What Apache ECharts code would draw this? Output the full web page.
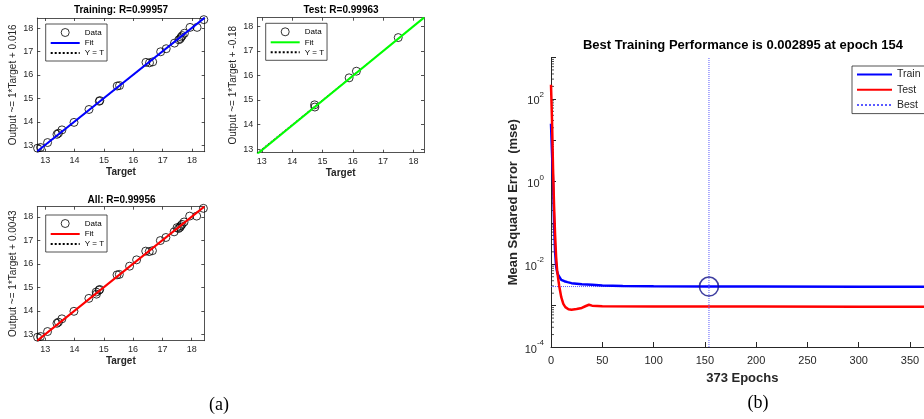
<!DOCTYPE html>
<html><head><meta charset="utf-8">
<script src="https://cdn.jsdelivr.net/npm/echarts@6/dist/echarts.min.js"></script>
<style>html,body{margin:0;padding:0;background:#fff}#c{width:924px;height:419px}</style>
</head><body><div id="c"></div>
<script>
// ---------------- data ----------------
const regTicks = [13, 14, 15, 16, 17, 18];
const trainTarget = [12.74,12.84,13.08,13.40,13.45,13.57,13.98,14.49,14.84,14.86,15.45,15.53,16.43,16.55,16.66,16.93,17.12,17.40,17.55,17.60,17.63,17.67,17.74,17.93,18.17,18.40];
const trainOutput = [12.88,12.91,13.12,13.47,13.52,13.66,13.98,14.53,14.88,14.91,15.53,15.55,16.54,16.52,16.56,16.99,17.12,17.36,17.50,17.55,17.62,17.68,17.78,18.03,18.03,18.36];
const testTarget = [14.74,14.75,15.88,16.12,17.50];
const testOutput = [14.80,14.71,15.90,16.17,17.54];
const trainFit = [1, 0.016];      // slope, intercept
const testFit = [1.01, -0.18];
const allFit = [1, 0.0043];
const trainR = '0.99957', testR = '0.99963', allR = '0.99956';
const limTrain = [12.73, 18.43], limTest = [12.85, 18.35], limAll = [12.73, 18.43];

const trainEpochs = [0,1,2,3,4,5,6,7,8,10,13,16,20,25,30,40,50,70,100,154,200,300,373];
const trainPerf = [25,5,1,0.1,0.02,0.009,0.0065,0.0055,0.005,0.0042,0.0039,0.0037,0.0035,0.0034,0.0033,0.0032,0.00305,0.003,0.00295,0.002895,0.00289,0.00288,0.00288];
const testEpochs = [0,1,2,3,4,5,6,7,8,10,12,14,17,20,25,30,34,37,40,50,100,200,300,373];
const testPerf = [220,30,2,0.25,0.05,0.015,0.007,0.0045,0.003,0.0016,0.0011,0.00092,0.00082,0.0008,0.00083,0.00088,0.00098,0.00105,0.001,0.00097,0.00096,0.00095,0.00094,0.00094];
const bestEpoch = 154, bestPerf = 0.002895;
const epochMax = 373;
const perfYMin = 1e-4, perfYMax = 1e3;

// ---------------- styles ----------------
const FF = 'Liberation Sans, Arial, Helvetica, sans-serif';
const AX = '#262626';
const zip = (a, b) => a.map((v, i) => [v, b[i]]);
const NOSYM = { color: 'rgba(0,0,0,0)', borderWidth: 0, opacity: 0 };

function regAxes(gi, lim, ylabel) {
  const base = {
    gridIndex: gi, type: 'value', min: lim[0], max: lim[1],
    splitLine: { show: false },
    axisLine: { show: true, onZero: false, lineStyle: { color: AX, width: 0.8 } },
    axisTick: { show: true, inside: true, length: 3, customValues: regTicks, lineStyle: { color: AX, width: 0.8 } }
  };
  const lab = { show: true, customValues: regTicks, fontSize: 9, color: AX, margin: 4, fontFamily: FF };
  return {
    x: [
      Object.assign({}, base, { position: 'bottom', axisLabel: lab, name: 'Target', nameLocation: 'middle', nameGap: 16,
        nameTextStyle: { fontSize: 10, fontWeight: 'bold', color: AX, fontFamily: FF } }),
      Object.assign({}, base, { position: 'top', axisLabel: { show: false } })
    ],
    y: [
      Object.assign({}, base, { position: 'left', axisLabel: lab, name: ylabel, nameLocation: 'middle', nameGap: 19, nameRotate: 90,
        nameTextStyle: { fontSize: 10, color: AX, fontFamily: FF } }),
      Object.assign({}, base, { position: 'right', axisLabel: { show: false } })
    ]
  };
}
function fitLabel(f) { return 'Output ~= ' + f[0].toFixed(0) + '*Target + ' + f[1]; }

const aTr = regAxes(0, limTrain, fitLabel(trainFit));
const aTe = regAxes(1, limTest, fitLabel(testFit));
const aAl = regAxes(2, limAll, fitLabel(allFit));

function regSeries(axIdx, tgt, out, fit, lim, color, sfx) {
  return [
    { type: 'scatter', name: 'Data|' + sfx, xAxisIndex: axIdx, yAxisIndex: axIdx, data: zip(tgt, out),
      symbol: 'circle', symbolSize: 8, itemStyle: { color: 'rgba(0,0,0,0)', borderColor: '#000', borderWidth: 1 }, z: 2 },
    { type: 'line', name: 'Fit|' + sfx, xAxisIndex: axIdx, yAxisIndex: axIdx, symbol: 'none', z: 3,
      data: [[lim[0], fit[0] * lim[0] + fit[1]], [lim[1], fit[0] * lim[1] + fit[1]]],
      lineStyle: { color: color, width: 2 }, itemStyle: { color: color } },
    { type: 'line', name: 'Y = T|' + sfx, xAxisIndex: axIdx, yAxisIndex: axIdx, symbol: 'none', z: 1,
      data: [[lim[0], lim[0]], [lim[1], lim[1]]],
      lineStyle: { color: '#000', width: 1, type: 'dotted' }, itemStyle: { color: '#000' } }
  ];
}
function regLegend(left, top, sfx) {
  return {
    left: left, top: top, orient: 'vertical', selectedMode: false, backgroundColor: '#fff',
    borderColor: AX, borderWidth: 0.8, borderRadius: 0, padding: [4, 3, 4, 4],
    itemWidth: 29, itemHeight: 8, itemGap: 2,
    textStyle: { fontSize: 8, color: '#000', fontFamily: FF },
    formatter: n => n.split('|')[0],
    data: [
      { name: 'Data|' + sfx, icon: 'circle', itemStyle: { color: 'rgba(0,0,0,0)', borderColor: '#000', borderWidth: 1 } },
      { name: 'Fit|' + sfx, itemStyle: NOSYM },
      { name: 'Y = T|' + sfx, itemStyle: NOSYM }
    ]
  };
}

// minor ticks for log axis
const minorVals = [];
for (let e = -4; e < 3; e++) for (let k = 2; k <= 9; k++) minorVals.push(k * Math.pow(10, e));

const option = {
  animation: false,
  backgroundColor: '#fff',
  grid: [
    { left: 37.3, top: 18, width: 167.4, height: 133.7, outerBoundsMode: 'none' },
    { left: 257.3, top: 17.7, width: 166.7, height: 135, outerBoundsMode: 'none' },
    { left: 37.3, top: 206.7, width: 167, height: 134, outerBoundsMode: 'none' },
    { left: 551, top: 57.5, width: 382.6, height: 289.5, outerBoundsMode: 'none' }
  ],
  xAxis: [].concat(aTr.x, aTe.x, aAl.x, [{
    gridIndex: 3, type: 'value', min: 0, max: epochMax, interval: 50,
    splitLine: { show: false },
    axisLine: { show: true, onZero: false, lineStyle: { color: AX, width: 1 } },
    axisTick: { show: true, inside: true, length: 5, lineStyle: { color: AX } },
    axisLabel: { fontSize: 11, color: AX, margin: 8, fontFamily: FF, showMaxLabel: false },
    name: epochMax + ' Epochs', nameLocation: 'middle', nameGap: 25,
    nameTextStyle: { fontSize: 13, fontWeight: 'bold', color: AX, fontFamily: FF }
  }]),
  yAxis: [].concat(aTr.y, aTe.y, aAl.y, [{
    gridIndex: 3, type: 'log', logBase: 10, min: perfYMin, max: perfYMax, splitNumber: 7,
    splitLine: { show: false },
    axisLine: { show: true, lineStyle: { color: AX, width: 1 } },
    axisTick: { show: true, inside: true, length: 5, lineStyle: { color: AX } },
    axisLabel: {
      color: AX, margin: 7, fontFamily: FF,
      formatter: v => { const e = Math.round(Math.log10(v)); return (e % 2 === 0) ? '{b|10}{s|' + e + '}' : ''; },
      rich: { b: { fontSize: 11, color: AX, fontFamily: FF, verticalAlign: 'bottom', lineHeight: 16 },
              s: { fontSize: 8, color: AX, fontFamily: FF, verticalAlign: 'top', lineHeight: 16 } }
    },
    name: 'Mean Squared Error  (mse)', nameLocation: 'middle', nameGap: 31, nameRotate: 90,
    nameTextStyle: { fontSize: 13, fontWeight: 'bold', color: AX, fontFamily: FF }
  }]),
  legend: [
    regLegend(45.7, 24, 'tr'),
    regLegend(265.7, 23.3, 'te'),
    regLegend(45.7, 215, 'al'),
    {
      left: 852, top: 66, orient: 'vertical', selectedMode: false, backgroundColor: '#fff',
      borderColor: AX, borderWidth: 0.8, borderRadius: 0, padding: [3, 4, 3, 4],
      itemWidth: 35, itemHeight: 10, itemGap: 4.3,
      textStyle: { fontSize: 10.5, color: AX, fontFamily: FF },
      data: [{ name: 'Train', itemStyle: NOSYM }, { name: 'Test', itemStyle: NOSYM }, { name: 'Best', itemStyle: NOSYM }]
    }
  ],
  series: [].concat(
    regSeries(0, trainTarget, trainOutput, trainFit, limTrain, '#0000ff', 'tr'),
    regSeries(2, testTarget, testOutput, testFit, limTest, '#00ff00', 'te'),
    regSeries(4, trainTarget.concat(testTarget), trainOutput.concat(testOutput), allFit, limAll, '#ff0000', 'al'),
    [
      { type: 'custom', name: 'minor', xAxisIndex: 6, yAxisIndex: 6, silent: true, clip: false,
        data: minorVals.map(v => [0, v]),
        renderItem: (p, api) => { const c = api.coord([0, api.value(1)]);
          return { type: 'line', shape: { x1: c[0], y1: c[1], x2: c[0] + 3, y2: c[1] }, style: { stroke: AX, lineWidth: 0.8 } }; } },
      { type: 'line', name: 'Train', xAxisIndex: 6, yAxisIndex: 6, symbol: 'none', data: zip(trainEpochs, trainPerf),
        lineStyle: { color: '#0000ff', width: 2.5 }, itemStyle: { color: '#0000ff' }, z: 3 },
      { type: 'line', name: 'Test', xAxisIndex: 6, yAxisIndex: 6, symbol: 'none', data: zip(testEpochs, testPerf),
        lineStyle: { color: '#ff0000', width: 2.5 }, itemStyle: { color: '#ff0000' }, z: 4 },
      { type: 'line', name: 'Best', xAxisIndex: 6, yAxisIndex: 6, symbol: 'none', data: [[bestEpoch, perfYMin], [bestEpoch, perfYMax]],
        lineStyle: { color: '#5a5aff', width: 1, type: 'dotted' }, itemStyle: { color: '#5a5aff' }, z: 5 },
      { type: 'line', name: 'BestH', xAxisIndex: 6, yAxisIndex: 6, symbol: 'none', data: [[0, bestPerf], [bestEpoch, bestPerf]],
        lineStyle: { color: '#5a5aff', width: 1, type: 'dotted' }, z: 2 },
      { type: 'scatter', name: 'BestPt', xAxisIndex: 6, yAxisIndex: 6, data: [[bestEpoch, bestPerf]], symbol: 'circle', symbolSize: 19,
        itemStyle: { color: 'rgba(0,0,0,0)', borderColor: '#10108a', borderWidth: 1.6 }, z: 6 }
    ]
  ),
  graphic: [
    { type: 'text', x: 121, y: 10, style: { text: 'Training: R=' + trainR, font: 'bold 10px ' + FF, fill: '#000', textAlign: 'center', textVerticalAlign: 'middle' } },
    { type: 'text', x: 341, y: 10, style: { text: 'Test: R=' + testR, font: 'bold 10px ' + FF, fill: '#000', textAlign: 'center', textVerticalAlign: 'middle' } },
    { type: 'text', x: 121.5, y: 200, style: { text: 'All: R=' + allR, font: 'bold 10px ' + FF, fill: '#000', textAlign: 'center', textVerticalAlign: 'middle' } },
    { type: 'text', x: 743, y: 45, style: { text: 'Best Training Performance is ' + bestPerf + ' at epoch ' + bestEpoch, font: 'bold 13px ' + FF, fill: '#000', textAlign: 'center', textVerticalAlign: 'middle' } },
    { type: 'text', x: 219, y: 405, style: { text: '(a)', font: '18px Liberation Serif, Times New Roman, serif', fill: '#000', textAlign: 'center', textVerticalAlign: 'middle' } },
    { type: 'text', x: 758, y: 403, style: { text: '(b)', font: '18px Liberation Serif, Times New Roman, serif', fill: '#000', textAlign: 'center', textVerticalAlign: 'middle' } }
  ]
};
const chart = echarts.init(document.getElementById('c'), null, { renderer: 'canvas' });
chart.setOption(option);
</script></body></html>
